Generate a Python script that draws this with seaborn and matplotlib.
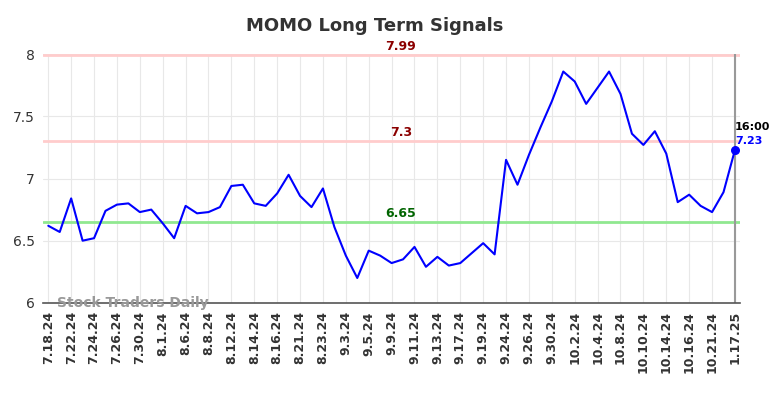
import seaborn as sns
from matplotlib import pyplot as plt
import numpy as np
import pandas as pd

# tick labels (every other point gets a label)
labels = ['7.18.24', '7.22.24', '7.24.24', '7.26.24', '7.30.24', '8.1.24', '8.6.24',
          '8.8.24', '8.12.24', '8.14.24', '8.16.24', '8.21.24', '8.23.24', '9.3.24',
          '9.5.24', '9.9.24', '9.11.24', '9.13.24', '9.17.24', '9.19.24', '9.24.24',
          '9.26.24', '9.30.24', '10.2.24', '10.4.24', '10.8.24', '10.10.24', '10.14.24',
          '10.16.24', '10.21.24', '1.17.25']

prices = [6.62, 6.57, 6.84, 6.50, 6.52, 6.74, 6.79, 6.80, 6.73, 6.75,
          6.64, 6.52, 6.78, 6.72, 6.73, 6.77, 6.94, 6.95, 6.80, 6.78,
          6.88, 7.03, 6.86, 6.77, 6.92, 6.61, 6.38, 6.20, 6.42, 6.38,
          6.32, 6.35, 6.45, 6.29, 6.37, 6.30, 6.32, 6.40, 6.48, 6.39,
          7.15, 6.95, 7.19, 7.41, 7.62, 7.86, 7.78, 7.60, 7.73, 7.86,
          7.68, 7.36, 7.27, 7.38, 7.20, 6.81, 6.87, 6.78, 6.73, 6.89,
          7.23]

upper = 7.99
middle = 7.3
lower = 6.65
last_time = '16:00'

df = pd.DataFrame({'i': np.arange(len(prices)), 'price': prices})

sns.set_style('whitegrid', {'grid.color': '#e8e8e8'})
fig = plt.figure(figsize=(7.84, 3.98), dpi=100)
ax = fig.add_axes([0.055, 0.239, 0.889, 0.625])

ax.axhline(upper, color='#ffcccc', lw=2, zorder=1)
ax.axhline(middle, color='#ffcccc', lw=2, zorder=1)
ax.axhline(lower, color='#90e890', lw=2, zorder=1)

sns.lineplot(data=df, x='i', y='price', color='blue', lw=1.5, ax=ax, zorder=3)

n = len(prices)
ax.axvline(n - 1, color='#999999', lw=1.5, zorder=2)
ax.scatter([n - 1], [prices[-1]], color='blue', s=30, zorder=4)

ax.set_xlim(-0.45, n - 1 + 0.45)
ax.set_ylim(6, 8)
ax.set_xticks(np.arange(0, n, 2))
ax.set_xticklabels(labels, rotation=90, fontsize=9, fontweight='bold', color='#333333')
ax.set_yticks([6, 6.5, 7, 7.5, 8])
ax.set_yticklabels(['6', '6.5', '7', '7.5', '8'], fontsize=10, color='#333333')
ax.tick_params(length=0, pad=6)
ax.set_xlabel('')
ax.set_ylabel('')

for s in ['top', 'right', 'left']:
    ax.spines[s].set_visible(False)
ax.spines['bottom'].set_color('#555555')
ax.spines['bottom'].set_linewidth(1.2)

mid_x = 30.8
ax.text(mid_x, upper + 0.02, f'{upper:.2f}', color='#8b0000', fontsize=9,
        fontweight='bold', ha='center', va='bottom')
ax.text(mid_x, middle + 0.02, f'{middle}', color='#8b0000', fontsize=9,
        fontweight='bold', ha='center', va='bottom')
ax.text(mid_x, lower + 0.02, f'{lower}', color='#006400', fontsize=9,
        fontweight='bold', ha='center', va='bottom')

ax.text(n - 1, prices[-1] + 0.14, last_time, color='black', fontsize=8,
        fontweight='bold', ha='left', va='bottom')
ax.text(n - 1, prices[-1] + 0.03, f'{prices[-1]:.2f}', color='blue', fontsize=8,
        fontweight='bold', ha='left', va='bottom')

ax.text(0.02, 0.0, 'Stock Traders Daily', transform=ax.transAxes, color='#999999',
        fontsize=10, fontweight='bold', ha='left', va='center', zorder=5)

fig.text(375 / 784, 1 - 26 / 398, 'MOMO Long Term Signals', fontsize=13,
         fontweight='bold', color='#333333', ha='center', va='center')

fig.savefig('out.png', dpi=100)
